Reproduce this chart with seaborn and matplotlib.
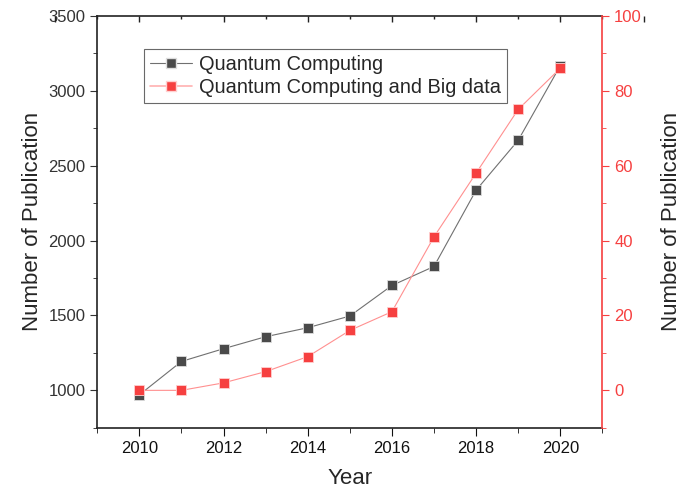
import pandas as pd
import seaborn as sns
import matplotlib.pyplot as plt
from matplotlib.ticker import MultipleLocator
from matplotlib.lines import Line2D

#data
years = [2010, 2011, 2012, 2013, 2014, 2015, 2016, 2017, 2018, 2019, 2020]
qc_pubs = [970, 1193, 1278, 1358, 1418, 1496, 1700, 1827, 2336, 2669, 3167]
qc_bigdata_pubs = [0, 0, 2, 5, 9, 16, 21, 41, 58, 75, 86]

df = pd.DataFrame({"Year": years, "QC": qc_pubs, "QCBD": qc_bigdata_pubs})

sns.set_style("ticks")
plt.rcParams["font.family"] = ["Liberation Sans", "DejaVu Sans"]

dark = "#4a4a4a"
red = "#f64040"
pos = [0.141, 0.134, 0.732, 0.834]

fig = plt.figure(figsize=(6.9, 4.94), dpi=100)
ax = fig.add_axes(pos)
ax2 = ax.twinx()

#left series
sns.lineplot(data=df, x="Year", y="QC", ax=ax, color="#707070", linewidth=0.8,
             marker="s", markersize=6.5, markerfacecolor=dark, markeredgecolor="#dddddd",
             markeredgewidth=0.6)
#right series
sns.lineplot(data=df, x="Year", y="QCBD", ax=ax2, color="#ff9090", linewidth=0.8,
             marker="s", markersize=6.5, markerfacecolor=red, markeredgecolor="#ffd0d0",
             markeredgewidth=0.6)

ax.set_xlim(2009, 2021)
ax.set_ylim(750, 3500)
ax2.set_ylim(-10, 100)

ax.xaxis.set_major_locator(MultipleLocator(2))
ax.xaxis.set_minor_locator(MultipleLocator(1))
ax.yaxis.set_major_locator(MultipleLocator(500))
ax.yaxis.set_minor_locator(MultipleLocator(250))
ax2.yaxis.set_major_locator(MultipleLocator(20))
ax2.yaxis.set_minor_locator(MultipleLocator(10))

ax.tick_params(axis="x", which="both", direction="out", labelsize=12, colors="#111111")
ax.tick_params(axis="x", which="major", length=6)
ax.tick_params(axis="x", which="minor", length=3.5)
ax.tick_params(axis="y", which="major", direction="out", length=5, labelsize=12, colors="#333333")
ax.tick_params(axis="y", which="minor", direction="out", length=3)
ax2.tick_params(axis="y", which="major", direction="out", length=5, labelsize=12, colors=red)
ax2.tick_params(axis="y", which="minor", direction="out", length=3, colors=red)

#inward ticks along the top, at the x locator positions
ax_h = fig.get_figheight() * fig.dpi * pos[3]
tr = ax.get_xaxis_transform()
ax.vlines(ax.xaxis.get_majorticklocs(), 1 - 6 / ax_h, 1, transform=tr,
          colors="#222222", linewidth=1, clip_on=False)
ax.vlines(ax.xaxis.get_minorticklocs(), 1 - 3.5 / ax_h, 1, transform=tr,
          colors="#222222", linewidth=1, clip_on=False)
ax.set_xlim(2009, 2021)

for s in ["left", "top", "bottom"]:
    ax.spines[s].set_color("#222222")
    ax.spines[s].set_linewidth(1.2)
ax2.spines["right"].set_color(red)
ax2.spines["right"].set_linewidth(1.2)
ax2.spines["left"].set_visible(False)
ax2.spines["top"].set_visible(False)
ax2.spines["bottom"].set_visible(False)
ax.spines["right"].set_visible(False)

ax.set_xlabel("Year", fontsize=16, labelpad=9)
ax.set_ylabel("Number of Publication", fontsize=16, labelpad=4)
ax2.set_ylabel("Number of Publication", fontsize=16, labelpad=14)

#legend
handles = [
    Line2D([], [], color="#707070", linewidth=0.8, marker="s", markersize=6.5,
           markerfacecolor=dark, markeredgecolor="#dddddd"),
    Line2D([], [], color="#ffb0b0", linewidth=1.2, marker="s", markersize=6.5,
           markerfacecolor=red, markeredgecolor="#ffd0d0"),
]
leg = ax2.legend(handles, ["Quantum Computing", "Quantum Computing and Big data"],
                 loc="upper left", bbox_to_anchor=(0.093, 0.92), fontsize=14.4,
                 frameon=True, fancybox=False, borderpad=0.3, handlelength=2.1,
                 handletextpad=0.35, labelspacing=0.2, borderaxespad=0)
leg.get_frame().set_edgecolor("#444444")
leg.get_frame().set_linewidth(0.8)

fig.savefig("out.png", dpi=100)
